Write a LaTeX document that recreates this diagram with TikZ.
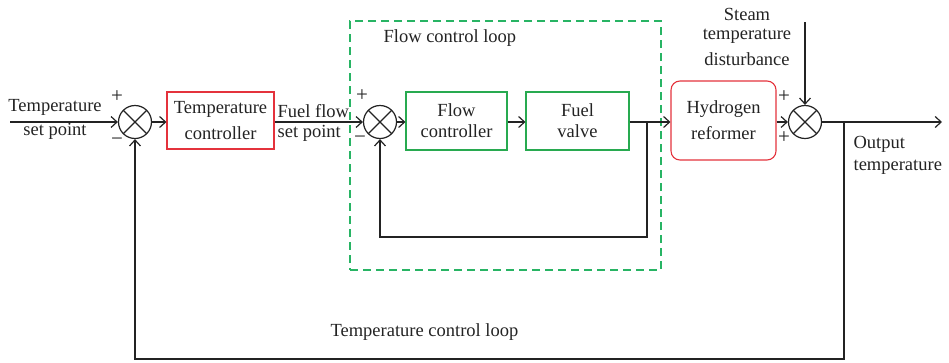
\documentclass[tikz,border=0pt]{standalone}
\usepackage{fontspec}
\setmainfont{Liberation Serif}
\usetikzlibrary{arrows.meta}
\definecolor{boxred}{RGB}{228,50,60}
\definecolor{boxgreen}{RGB}{40,170,80}
\definecolor{dashgreen}{RGB}{40,180,100}
\definecolor{ink}{RGB}{35,35,35}
\begin{document}
\begin{tikzpicture}[x=1pt,y=-1pt,color=ink,line width=1.2pt,
  font=\fontsize{18.5}{24}\selectfont,
  sumnode/.style={circle,draw=ink,minimum size=33pt,inner sep=0pt,
    path picture={\draw[line width=1.1pt] (path picture bounding box.north west) -- (path picture bounding box.south east)
      (path picture bounding box.north east) -- (path picture bounding box.south west);}},
  redbox/.style={draw=boxred,line width=1.1pt,align=center,inner sep=0pt},
  greenbox/.style={draw=boxgreen,line width=1.1pt,align=center,inner sep=0pt,font=\fontsize{18.5}{21}\selectfont},
  lbl/.style={inner sep=0pt},
  sign/.style={inner sep=0pt,font=\fontsize{21}{21}\selectfont},
  arr/.style={-{Straight Barb[length=6pt,width=11pt]}}]
\useasboundingbox (0,0) rectangle (949,362);

% dashed flow loop
\node[draw=dashgreen,line width=1.4pt,dash pattern=on 8pt off 5pt,minimum width=311pt,minimum height=249pt,inner sep=0pt] (loop) at (505.5,145.5) {};
\node[lbl,anchor=base west] (looplbl) at (383,42) {Flow control loop};

% summing junctions
\node[sumnode] (s1) at (135,122) {};
\node[sumnode] (s2) at (380,122) {};
\node[sumnode] (s3) at (805,122) {};

% blocks
\node[redbox,minimum width=107pt,minimum height=57pt,font=\fontsize{18.5}{26}\selectfont] (tc) at (220.5,120.5) {Temperature\\controller};
\node[greenbox,minimum width=101pt,minimum height=58pt] (fc) at (456.5,121) {Flow\\controller};
\node[greenbox,minimum width=103pt,minimum height=58pt] (fv) at (577.5,121) {Fuel\\valve};
\node[redbox,rounded corners=9pt,minimum width=105pt,minimum height=79pt,font=\fontsize{18.5}{26}\selectfont] (hr) at (723.5,120.5) {Hydrogen\\reformer};

% labels
\node[lbl,anchor=base] (tsp1) at (55,111) {Temperature};
\node[lbl,anchor=base] (tsp2) at (55,135) {set point};
\node[lbl,anchor=base west] (ffs1) at (277,117) {Fuel flow};
\node[lbl,anchor=base west] (ffs2) at (277,137) {set point};
\node[lbl,anchor=base] (std1) at (747,20) {Steam};
\node[lbl,anchor=base] (std2) at (747,39) {temperature};
\node[lbl,anchor=base] (std3) at (747,65) {disturbance};
\node[lbl,anchor=base west] (ot1) at (853,148) {Output};
\node[lbl,anchor=base west] (ot2) at (853,170) {temperature};
\node[lbl,anchor=base west] (tcl) at (330,336) {Temperature control loop};

% signs
\node[sign] (p1) at (117,97) {+};
\node[sign] (m1) at (117,142) {−};
\node[sign] (p2) at (362,96) {+};
\node[sign] (m2) at (360,140) {−};
\node[sign] (p3) at (784,97) {+};
\node[sign] (p4) at (784,138) {+};

% coordinates
\coordinate (in) at (10,122);
\coordinate (b1) at (647,122);
\coordinate (fb1) at (647,237);
\coordinate (dist) at (805,22);
\coordinate (out) at (942,122);
\coordinate (b2) at (844,122);
\coordinate (fb2) at (844,359);

% connectors
\draw[arr] (in) -- (s1);
\draw[arr] (s1) -- (s1 -| tc.west);
\draw[arr] (tc.east |- s1) -- (s2);
\draw[arr] (s2) -- (s2 -| fc.west);
\draw[arr] (fc.east |- s2) -- (s2 -| fv.west);
\draw[arr] (fv.east |- s2) -- (s2 -| hr.west);
\draw[arr] (b1) -- (fb1) -| (s2);
\draw[arr] (hr.east |- s3) -- (s3);
\draw[arr] (dist) -- (s3);
\draw[arr] (s3) -- (out);
\draw[arr] (b2) -- (fb2) -| (s1);
\end{tikzpicture}
\end{document}
